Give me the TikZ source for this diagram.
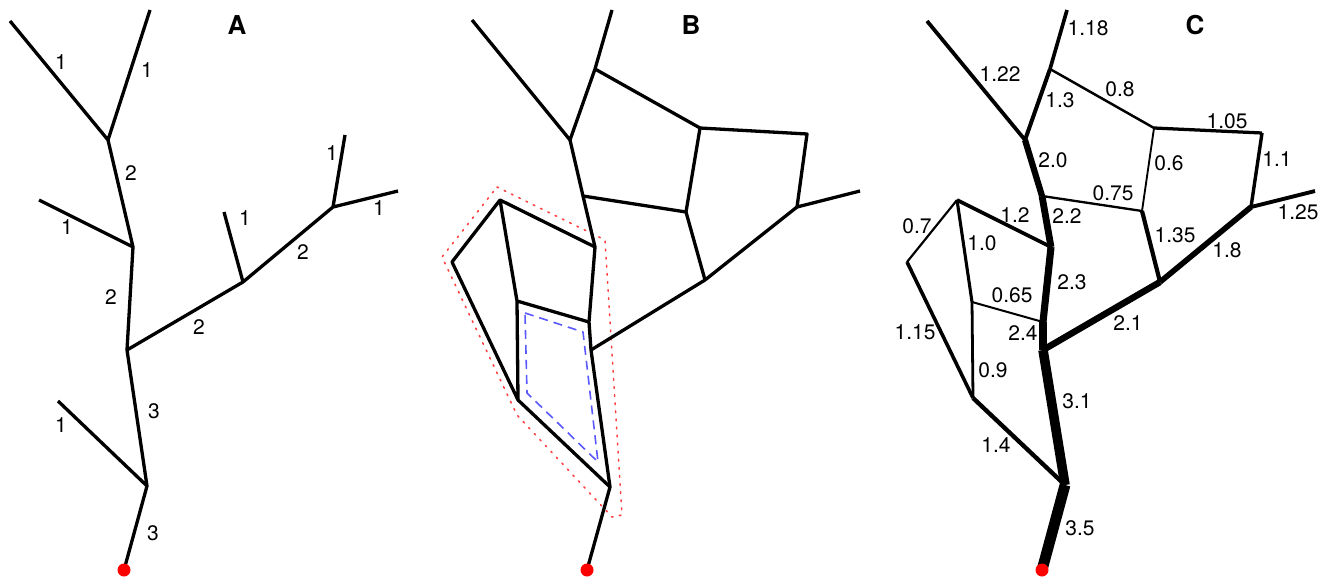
\documentclass[tikz,border=0pt]{standalone}
\usepackage{fontspec}
\setmainfont{TeX Gyre Heros}

\begin{document}
\begin{tikzpicture}[x=1pt,y=-1pt,line join=round,line width=3.3pt]
\tikzset{lbl/.style={font=\fontsize{21}{21}\selectfont,inner sep=0pt},
  ttl/.style={font=\fontsize{26}{26}\selectfont\bfseries,inner sep=0pt},
  rootdot/.style={fill=red,draw=none}}
\useasboundingbox (0,0) rectangle (1329,580);
% A
\coordinate (aL1) at (10,21);
\coordinate (aL2) at (150,10);
\coordinate (a1) at (108,140);
\coordinate (a2) at (133,247);
\coordinate (aL3) at (39,200);
\coordinate (a3) at (127,350);
\coordinate (a4) at (243,282);
\coordinate (aL4) at (224,212);
\coordinate (a5) at (333,207);
\coordinate (aL5) at (345,135);
\coordinate (aL6) at (398,191);
\coordinate (a6) at (147,486);
\coordinate (aL7) at (58,401);
\coordinate (aR) at (124,570);
\draw (aL1)--(a1)--(aL2) (a1)--(a2)--(aL3) (a2)--(a3)--(a6)--(aR) (a6)--(aL7);
\draw (a3)--(a4)--(a5)--(aL5) (a5)--(aL6) (a4)--(aL4);
\fill[rootdot] (aR) circle (6.5);
\foreach \p/\t [count=\k] in {(61,62)/1,(147,70)/1,(131,173)/2,(67,227)/1,(111,297)/2,(199,327)/2,(245,218)/1,(303,252)/2,(332,153)/1,(379,208)/1,(154,411)/3,(61,425)/1,(153,533)/3}
  \node[lbl] (lA\k) at \p {\t};
\node[ttl] (tA) at (237,25) {A};
% B
\coordinate (bL1) at (472,20);
\coordinate (bL2) at (612,10);
\coordinate (b1) at (595,69);
\coordinate (b2) at (570,140);
\coordinate (b3) at (700,128);
\coordinate (b4) at (807,134);
\coordinate (b5) at (797,207);
\coordinate (bL3) at (860,191);
\coordinate (b6) at (686,212);
\coordinate (b7) at (583,196);
\coordinate (b8) at (705,280);
\coordinate (b9) at (595,247);
\coordinate (b10) at (500,200);
\coordinate (b11) at (452,262);
\coordinate (b12) at (517,301);
\coordinate (b13) at (589,322);
\coordinate (b14) at (591,350);
\coordinate (b15) at (518,400);
\coordinate (b16) at (610,487);
\coordinate (bR) at (587,570);
\draw[red!75,line width=1.6pt,dash pattern=on 1.6pt off 6.5pt,line cap=round]
  (497,187)--(605,240)--(622,515)--(612,517)--(517,415)--(442,257)--cycle;
\draw[blue!65,line width=1.6pt,dash pattern=on 9pt off 6pt]
  (525,313)--(583,332)--(598,462)--(527,393)--cycle;
\draw (bL1)--(b2)--(b1)--(bL2) (b1)--(b3)--(b4)--(b5)--(bL3);
\draw (b3)--(b6)--(b7) (b6)--(b8)--(b5) (b8)--(b14);
\draw (b2)--(b7)--(b9)--(b13)--(b14)--(b16)--(bR);
\draw (b9)--(b10)--(b11)--(b15)--(b16) (b10)--(b12)--(b13) (b12)--(b15);
\fill[rootdot] (bR) circle (6.5);
\node[ttl] (tB) at (691,25) {B};
% C
\coordinate (cL1) at (927,21);
\coordinate (cL2) at (1067,10);
\coordinate (c1) at (1050,69);
\coordinate (c2) at (1025,140);
\coordinate (c3) at (1154,128);
\coordinate (c4) at (1262,133);
\coordinate (c5) at (1251,207);
\coordinate (cL3) at (1315,191);
\coordinate (c6) at (1142,211);
\coordinate (c7) at (1042,196);
\coordinate (c8) at (1160,282);
\coordinate (c9) at (1051,247);
\coordinate (c10) at (957,200);
\coordinate (c11) at (907,262);
\coordinate (c12) at (972,302);
\coordinate (c13) at (1043,322);
\coordinate (c14) at (1043,350);
\coordinate (c15) at (973,398);
\coordinate (c16) at (1065,485);
\coordinate (cR) at (1042,570);
\foreach \u/\v/\w in {cL1/c2/1.22,cL2/c1/1.18,c1/c2/1.3,c1/c3/0.8,c3/c4/1.05,c4/c5/1.1,c5/cL3/1.25,c3/c6/0.6,c6/c7/0.75,c2/c7/2.0,c7/c9/2.2,c6/c8/1.35,c5/c8/1.8,c8/c14/2.1,c9/c10/1.2,c10/c11/0.7,c10/c12/1.0,c9/c13/2.3,c12/c13/0.65,c13/c14/2.4,c11/c15/1.15,c12/c15/0.9,c14/c16/3.1,c15/c16/1.4,c16/cR/3.5}
  \draw[line width={3.1*\w pt}] (\u)--(\v);
\fill[rootdot] (cR) circle (6.5);
\foreach \p/\t [count=\k] in {(1088,28)/1.18,(1000,74)/1.22,(1060,100)/1.3,(1120,89)/0.8,(1227,121)/1.05,(1053,160)/2.0,(1169,163)/0.6,(1277,159)/1.1,(1113,193)/0.75,(1298,212)/1.25,(917,226)/0.7,(1015,215)/1.2,(1067,216)/2.2,(1175,235)/1.35,(1227,250)/1.8,(982,243)/1.0,(1072,282)/2.3,(1012,295)/0.65,(915,332)/1.15,(1023,333)/2.4,(1128,323)/2.1,(993,370)/0.9,(1077,401)/3.1,(996,445)/1.4,(1080,528)/3.5}
  \node[lbl] (lC\k) at \p {\t};
\node[ttl] (tC) at (1195,25) {C};
\end{tikzpicture}
\end{document}
